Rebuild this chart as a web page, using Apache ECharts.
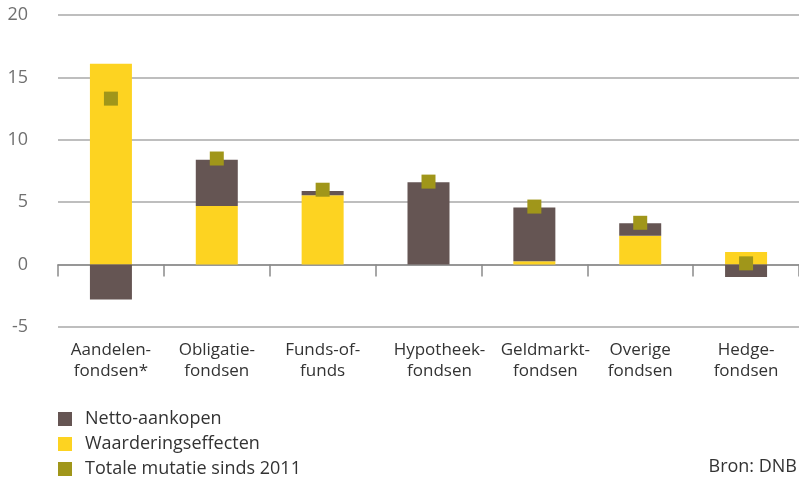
<!DOCTYPE html>
<html>
<head>
<meta charset="utf-8">
<script src="https://cdn.jsdelivr.net/npm/echarts@6/dist/echarts.min.js"></script>
<style>
html,body{margin:0;padding:0;background:#fff;}
#c{width:799px;height:479px;}
</style>
</head>
<body>
<div id="c"></div>
<script>
var categories = ['Aandelen-\nfondsen*', 'Obligatie-\nfondsen', 'Funds-of-\nfunds', 'Hypotheek-\nfondsen', 'Geldmarkt-\nfondsen', 'Overige\nfondsen', 'Hedge-\nfondsen'];
var nettoAankopen = [-2.8, 3.7, 0.35, 6.6, 4.3, 1.0, -1.0];
var waarderingseffecten = [16.1, 4.7, 5.55, 0, 0.27, 2.32, 1.0];
var totaleMutatie = [13.3, 8.5, 6.0, 6.65, 4.65, 3.35, 0.1];
var yTicks = [-5, 0, 5, 10, 15, 20];

var FONT = 'Open Sans';
var chart = echarts.init(document.getElementById('c'));
var shifted = {3: true, 4: true};
chart.setOption({
  animation: false,
  textStyle: {fontFamily: FONT},
  grid: {left: 58, right: -3, top: 15, bottom: 152, containLabel: false},
  xAxis: {
    type: 'category',
    data: categories,
    axisLine: {onZero: true, lineStyle: {color: '#8a8a8a', width: 1.5}},
    axisTick: {show: true, length: 12, lineStyle: {color: '#8a8a8a', width: 1.5}},
    axisLabel: {
      margin: 13,
      interval: 0,
      color: '#333',
      fontSize: 17,
      lineHeight: 21,
      fontFamily: FONT,
      formatter: function (v, i) {
        var st = shifted[i] ? 's' : 'n';
        return v.split('\n').map(function (l) { return '{' + st + '|' + l + '}'; }).join('\n');
      },
      rich: {
        n: {fontSize: 17, lineHeight: 21, color: '#333', fontFamily: FONT},
        s: {fontSize: 17, lineHeight: 21, color: '#333', fontFamily: FONT, padding: [0, 0, 0, 22]}
      }
    }
  },
  yAxis: {
    type: 'value',
    min: yTicks[0],
    max: yTicks[yTicks.length - 1],
    interval: 5,
    axisLine: {show: false},
    axisTick: {show: false},
    axisLabel: {
      margin: 30,
      color: '#707070',
      fontSize: 18,
      fontFamily: FONT
    },
    splitLine: {lineStyle: {color: '#a8a8a8', width: 1.5}}
  },
  legend: {
    orient: 'vertical',
    left: 58,
    top: 410,
    height: 200,
    padding: 0,
    itemWidth: 14,
    itemHeight: 14,
    itemGap: 7,
    icon: 'rect',
    textStyle: {fontSize: 18, color: '#333', fontFamily: FONT, padding: [0, 0, 0, 8]},
    data: ['Netto-aankopen', 'Waarderingseffecten', 'Totale mutatie sinds 2011']
  },
  graphic: [{
    type: 'text',
    right: 2,
    top: 458,
    style: {text: 'Bron: DNB', fontSize: 18, fill: '#333', fontFamily: FONT}
  }],
  series: [
    {
      name: 'Waarderingseffecten',
      type: 'bar',
      stack: 'a',
      barWidth: 42,
      itemStyle: {color: '#FDD321'},
      data: waarderingseffecten
    },
    {
      name: 'Netto-aankopen',
      type: 'bar',
      stack: 'a',
      barWidth: 42,
      itemStyle: {color: '#655553'},
      data: nettoAankopen
    },
    {
      name: 'Totale mutatie sinds 2011',
      type: 'scatter',
      symbol: 'rect',
      symbolSize: 14,
      itemStyle: {color: '#A0961A', opacity: 1},
      z: 5,
      data: totaleMutatie
    }
  ]
});
</script>
</body>
</html>
